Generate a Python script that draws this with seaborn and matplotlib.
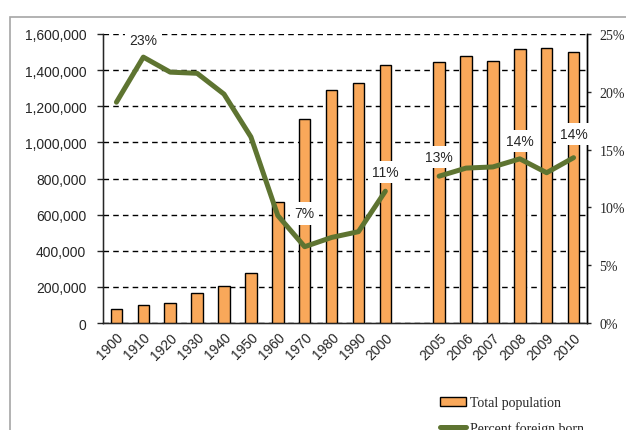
import numpy as np
import pandas as pd
import seaborn as sns
import matplotlib.pyplot as plt
from matplotlib.patches import Patch, Rectangle
from matplotlib.lines import Line2D
from matplotlib.ticker import FuncFormatter

# categories (one empty slot between 2000 and 2005)
years = ['1900', '1910', '1920', '1930', '1940', '1950', '1960', '1970', '1980', '1990', '2000',
         ' ', '2005', '2006', '2007', '2008', '2009', '2010']
population = [76000, 101000, 109000, 164000, 205000, 275000, 670000, 1131000, 1288000, 1329000, 1430000,
              np.nan, 1447000, 1478000, 1452000, 1517000, 1524000, 1502000]
pct_foreign = [19.1, 23.0, 21.7, 21.6, 19.8, 16.1, 9.3, 6.6, 7.4, 7.9, 11.4,
               np.nan, 12.7, 13.4, 13.5, 14.2, 13.0, 14.3]
labelled_years = ['1910', '1970', '2000', '2005', '2008', '2010']

BAR_COLOR = '#F9A85A'
LINE_COLOR = '#5E7431'
# vertical offset (points) of each value label above its point
label_offsets = {'1910': 12, '1970': 24, '2000': 14, '2005': 14, '2008': 13, '2010': 17}

df = pd.DataFrame({'year': years, 'population': population, 'pct': pct_foreign})
df['pos'] = np.arange(len(years))
df['segment'] = (df['year'] >= '2005').astype(int)
line_df = df.dropna(subset=['pct'])

sns.set_style('white')
plt.rcParams['font.family'] = ['Liberation Sans', 'DejaVu Sans']

fig = plt.figure(figsize=(6.26, 4.31), dpi=100)
ax = fig.add_axes([103 / 626, 1 - 324 / 431, 484 / 626, 289 / 431])

sns.barplot(data=df.dropna(subset=['population']), x='year', y='population', order=years,
            color=BAR_COLOR, edgecolor='black', linewidth=1.0, width=0.43,
            saturation=1, ax=ax, zorder=3)
ax.set_xlim(-0.5, len(years) - 0.5)
ax.set_ylim(0, 1600000)
ax.set_yticks(np.arange(0, 1600001, 200000))
ax.yaxis.set_major_formatter(FuncFormatter(lambda v, p: f'{int(v):,}'))
ax.grid(axis='y', color='black', linestyle=(0, (4, 3)), linewidth=1.0, zorder=0)
ax.set_axisbelow(True)
ax.set_xlabel('')
ax.set_ylabel('')
ax.tick_params(axis='y', direction='out', length=4, width=1, pad=8, labelsize=10, left=True)
ax.tick_params(axis='x', length=0, pad=5, labelsize=10)
plt.setp(ax.get_xticklabels(), rotation=45, ha='right', rotation_mode='anchor')
for s in ['left', 'bottom', 'right']:
    ax.spines[s].set_color('black')
    ax.spines[s].set_linewidth(1.0)
ax.spines['top'].set_visible(False)

ax2 = ax.twinx()
sns.lineplot(data=line_df, x='pos', y='pct', units='segment', estimator=None,
             color=LINE_COLOR, linewidth=3.6, ax=ax2, zorder=4)
ax2.set_ylim(0, 25)
ax2.set_yticks(np.arange(0, 26, 5))
ax2.set_yticklabels([f'{v}%' for v in range(0, 26, 5)], family='Liberation Serif', fontsize=10)
ax2.set_ylabel('')
ax2.set_xlabel('')
ax2.tick_params(axis='y', direction='out', length=3, width=1, pad=6, right=True)
ax2.spines['top'].set_visible(False)
ax2.spines['right'].set_color('black')
ax2.spines['right'].set_linewidth(1.0)
ax2.set_xlim(-0.5, len(years) - 0.5)

for _, row in line_df.iterrows():
    if row['year'] in labelled_years:
        ax2.annotate(f"{round(row['pct'])}%", (row['pos'], row['pct']),
                     xytext=(0, label_offsets[row['year']]), textcoords='offset points',
                     ha='center', va='center', fontsize=10, zorder=6,
                     bbox=dict(boxstyle='square,pad=0.3', fc='white', ec='none'))

# legend
handles = [Patch(facecolor=BAR_COLOR, edgecolor='black', linewidth=1.0),
           Line2D([0], [0], color=LINE_COLOR, linewidth=3.6)]
fig.legend(handles, ['Total population', 'Percent foreign born'],
           loc='upper left', bbox_to_anchor=(440 / 626, 1 - 397 / 431),
           frameon=False, prop={'family': 'Liberation Serif', 'size': 10},
           handlelength=1.9, handleheight=0.6, handletextpad=0.25,
           labelspacing=0.85, borderpad=0, borderaxespad=0)

# grey frame around the chart
fig.patches.append(Rectangle((10 / 626, -0.2), 1.2, 1.2 - 18 / 431, transform=fig.transFigure,
                             fill=False, edgecolor='#a6a6a6', linewidth=1.2, clip_on=False))

fig.savefig('out.png', dpi=100)
